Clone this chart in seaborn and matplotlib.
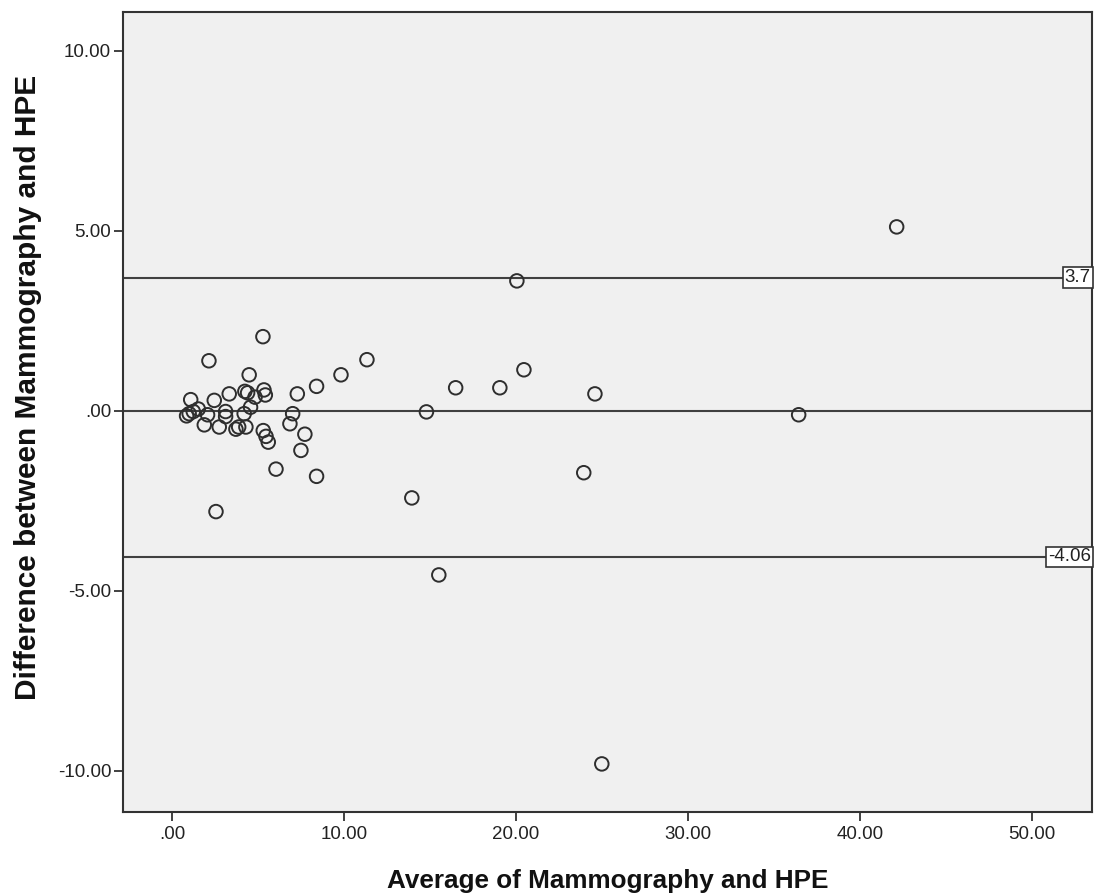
import matplotlib
matplotlib.use("Agg")
import matplotlib.pyplot as plt
import matplotlib.transforms as mtransforms
import seaborn as sns
import pandas as pd

# Bland-Altman data
avg = [42.15, 20.06, 5.29, 2.15, 11.34, 9.83, 16.5, 19.07, 20.47, 24.6,
       14.8, 23.95, 13.95, 36.45, 15.52, 25.0, 2.56, 8.41, 7.29, 6.05,
       8.41, 7.5, 7.73, 7.02, 6.86, 4.49, 1.09, 2.46, 3.33, 4.24,
       4.4, 5.35, 5.43, 4.83, 4.57, 1.53, 1.24, 0.85, 1.0, 2.07,
       3.12, 3.12, 4.2, 1.88, 2.75, 3.72, 3.88, 4.30, 5.31, 5.47, 5.6]
diff = [5.11, 3.61, 2.06, 1.39, 1.42, 1.0, 0.64, 0.64, 1.14, 0.47,
        -0.03, -1.72, -2.42, -0.11, -4.56, -9.81, -2.8, 0.68, 0.47, -1.62,
        -1.82, -1.1, -0.65, -0.08, -0.36, 1.0, 0.31, 0.29, 0.47, 0.54,
        0.5, 0.58, 0.44, 0.38, 0.10, 0.05, -0.02, -0.14, -0.08, -0.11,
        -0.02, -0.16, -0.08, -0.39, -0.45, -0.51, -0.45, -0.45, -0.55, -0.71, -0.87]

ref_lines = [3.7, 0.0, -4.06]
ref_labels = ["3.7", None, "-4.06"]

x_ticks = [0, 10, 20, 30, 40, 50]
x_tick_labels = [".00", "10.00", "20.00", "30.00", "40.00", "50.00"]
y_ticks = [-10, -5, 0, 5, 10]
y_tick_labels = ["-10.00", "-5.00", ".00", "5.00", "10.00"]

df = pd.DataFrame({"avg": avg, "diff": diff})

sns.set_theme(style="white")
plt.rcParams["font.family"] = ["Liberation Sans", "DejaVu Sans"]

fig = plt.figure(figsize=(10.94, 8.96), dpi=100)
ax = fig.add_axes([0.1124, 0.094, 0.8856, 0.8926])
ax.set_facecolor("#f0f0f0")

for yv in ref_lines:
    ax.axhline(yv, color="#404040", lw=1.5, zorder=1)

sns.scatterplot(data=df, x="avg", y="diff", ax=ax, marker="o", s=95,
                fc="none", ec="#2e2e2e", linewidth=1.4, zorder=3)

trans = mtransforms.blended_transform_factory(ax.transAxes, ax.transData)
for yv, lab in zip(ref_lines, ref_labels):
    if lab:
        ax.text(0.999, yv, lab, transform=trans, ha="right", va="center",
                fontsize=13.5, color="#222222", zorder=4, clip_on=False,
                bbox=dict(boxstyle="square,pad=0.1", fc="white", ec="#333333", lw=1.2))

ax.set_xlim(-2.85, 53.5)
ax.set_ylim(-11.14, 11.08)
ax.set_xticks(x_ticks)
ax.set_xticklabels(x_tick_labels)
ax.set_yticks(y_ticks)
ax.set_yticklabels(y_tick_labels)
ax.tick_params(axis="both", direction="out", length=6.5, width=1.3, color="#333333",
               labelsize=13.5, labelcolor="#222222", left=True, bottom=True, pad=3.5)
ax.tick_params(axis="y", pad=2)

for sp in ax.spines.values():
    sp.set_color("#333333")
    sp.set_linewidth(1.5)

ax.set_xlabel("Average of Mammography and HPE", fontsize=18.8, fontweight="bold",
              color="#111111")
ax.set_ylabel("Difference between Mammography and HPE", fontsize=21.5,
              fontweight="bold", color="#111111")
ax.xaxis.set_label_coords(0.5, -0.072)
ax.yaxis.set_label_coords(-0.084, 0.53)

fig.savefig("out.png", dpi=100)
